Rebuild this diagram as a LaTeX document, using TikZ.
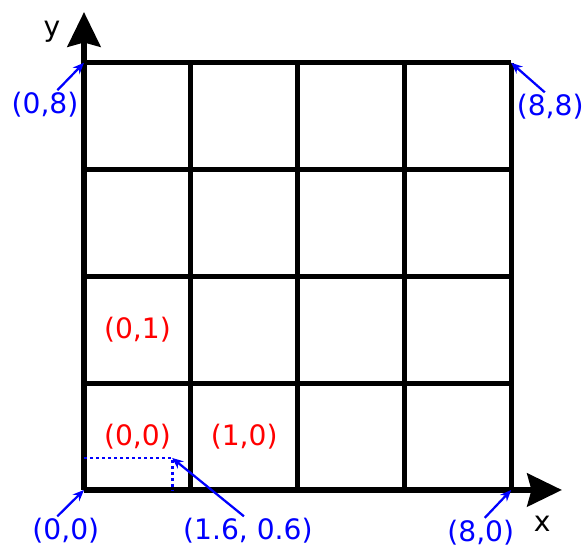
\documentclass[tikz,border=0pt]{standalone}
\usepackage{fontspec}
\setmainfont{DejaVu Sans}
\usetikzlibrary{arrows.meta, positioning}

\begin{document}
\begin{tikzpicture}[
  gridline/.style={line width=2.8pt, black},
  axis/.style={line width=2.8pt, -{Stealth[length=0.65cm, width=0.62cm, inset=0.08cm]}},
  lbl/.style={font=\fontsize{15}{17}\selectfont, inner sep=1pt},
  cornerlbl/.style={lbl, text=blue},
  celllbl/.style={lbl, text=red},
  ptr/.style={-{Stealth[length=6pt, width=5pt]}, blue, line width=1.2pt},
  dotline/.style={blue, line width=1.5pt, dash pattern=on 1.6pt off 1.6pt}
]
  \useasboundingbox (-1.573,-1.105) rectangle (9.42,9.176);

  % grid
  \foreach \i in {0,2,...,8} {
    \draw[gridline] (\i,0) -- (\i,8);
    \draw[gridline] (0,\i) -- (8,\i);
  }

  % axes
  \coordinate (o) at (0,0);
  \coordinate (ytip) at (0,8.95);
  \coordinate (xtip) at (8.95,0);
  \draw[axis] (o) -- (ytip);
  \draw[axis] (o) -- (xtip);
  \node[lbl] (ylbl) at (-0.6,8.58) {y};
  \node[lbl] (xlbl) at (8.58,-0.64) {x};

  % corners
  \coordinate (tl) at (0,8);
  \coordinate (tr) at (8,8);
  \coordinate (br) at (8,0);
  \coordinate (p) at (1.65,0.6);
  \coordinate (py) at (0,0.6);
  \coordinate (px) at (1.65,0);

  \node[cornerlbl] (tllbl) at (-0.73,7.21) {(0,8)};
  \node[cornerlbl] (trlbl) at (8.73,7.17) {(8,8)};
  \node[cornerlbl] (olbl) at (-0.34,-0.77) {(0,0)};
  \node[cornerlbl] (plbl) at (3.07,-0.77) {(1.6, 0.6)};
  \node[cornerlbl] (brlbl) at (7.43,-0.8) {(8,0)};

  \draw[ptr] (tllbl.50) -- (tl);
  \draw[ptr] (trlbl.110) -- (tr);
  \draw[ptr] (olbl.120) -- (o);
  \draw[ptr] (plbl.105) -- (p);
  \draw[ptr] (brlbl.75) -- (br);

  \draw[dotline] (py) -- (p) -- (px);

  % cells
  \node[celllbl] (c00) at (1,1) {(0,0)};
  \node[celllbl] (c10) at (3,1) {(1,0)};
  \node[celllbl] (c01) at (1,3) {(0,1)};
\end{tikzpicture}
\end{document}
